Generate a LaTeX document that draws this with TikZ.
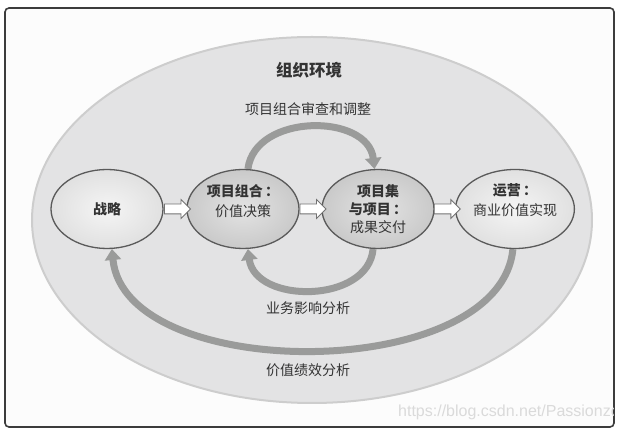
\documentclass[tikz,border=0pt]{standalone}
\usepackage{fontspec}
\setmainfont{Noto Sans CJK SC}
\newfontfamily\wmfont{Liberation Sans}
\usetikzlibrary{shapes.arrows,shapes.geometric,arrows.meta,calc}
\pgfdeclarelayer{back}
\pgfdeclarelayer{mid}
\pgfsetlayers{back,mid,main}
\definecolor{framec}{HTML}{3C3C3C}
\definecolor{paper}{HTML}{FCFCFC}
\definecolor{envfill}{HTML}{E3E3E4}
\definecolor{envline}{HTML}{CDCDCD}
\definecolor{arcc}{HTML}{9A9B9A}
\definecolor{nodeline}{HTML}{5A5A5A}
\definecolor{txt}{HTML}{333333}
\definecolor{wmc}{HTML}{DADADA}
\tikzset{
  stage/.style={ellipse, minimum width=112pt, minimum height=79pt, inner sep=0pt,
    draw=nodeline, line width=1.3pt, align=center, text=txt,
    font=\fontsize{14}{20}\selectfont},
  lightstage/.style={stage, inner color=white!96!black, outer color=white!88!black},
  darkstage/.style={stage, inner color=white!89!black, outer color=white!79!black},
  blockarrow/.style={single arrow, draw=black!55, fill=white, line width=0.8pt,
    minimum height=26pt, inner xsep=0pt, inner ysep=4.5pt,
    single arrow head extend=4.5pt, single arrow tip angle=90},
  flowarc/.style={draw=arcc, line width=7pt, -{Triangle[length=11pt,width=16pt]}},
  lbl/.style={text=txt, font=\fontsize{14}{16}\selectfont, inner sep=0pt},
}
\begin{document}
\begin{tikzpicture}[x=1pt,y=-1pt]
\useasboundingbox (0,0) rectangle (625,435);
\begin{pgfonlayer}{back}
  \draw[fill=paper, draw=framec, line width=1.6pt, rounded corners=4pt] (5,8) rectangle (614,427);
  \draw[fill=envfill, draw=envline, line width=2pt] (312,220) ellipse [x radius=280, y radius=183];
\end{pgfonlayer}

\node[lbl, font=\fontsize{16.5}{18}\selectfont\bfseries] (title) at (309,70) {组织环境};
\node[lbl] (top) at (308,109) {项目组合审查和调整};
\node[lbl] (mid) at (308,308) {业务影响分析};
\node[lbl] (bot) at (308,370) {价值绩效分析};

\node[lightstage] (st) at (107,209) {\bfseries 战略};
\node[darkstage] (pf) at (243,209) {{\bfseries 项目组合\,：}\\价值决策\\[-2pt]\mbox{}};
\node[darkstage, font=\fontsize{14}{18}\selectfont] (pm) at (378,209) {{\bfseries 项目集}\\{\bfseries 与项目\,：}\\成果交付};
\node[lightstage] (op) at (515,209) {{\bfseries 运营\,：}\\商业价值实现\\[-2pt]\mbox{}};

\node[blockarrow] (a1) at ($(st.east)!0.5!(pf.west)$) {};
\node[blockarrow] (a2) at ($(pf.east)!0.5!(pm.west)$) {};
\node[blockarrow] (a3) at ($(pm.east)!0.5!(op.west)$) {};

\begin{pgfonlayer}{mid}
  \draw[flowarc] (pf.83) .. controls (255,113) and (368,113) .. (pm.95);
  \draw[flowarc] (pm.263) .. controls (368,304) and (255,304) .. (pf.277);
  \draw[flowarc] (op.267) .. controls (500,384) and (125,384) .. (st.277);
\end{pgfonlayer}

\begin{scope}
  \clip (0,0) rectangle (613,435);
  \node[anchor=base west, inner sep=0pt, text=wmc, font=\wmfont\fontsize{16}{16}\selectfont] (wm) at (398,417) {https://blog.csdn.net/Passionzo};
\end{scope}
\end{tikzpicture}
\end{document}
